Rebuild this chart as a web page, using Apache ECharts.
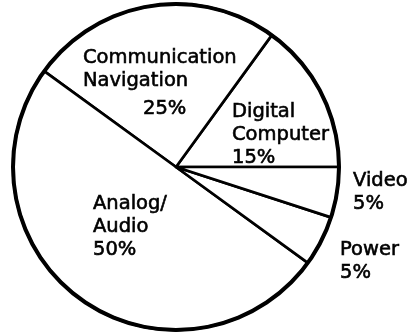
<!DOCTYPE html>
<html>
<head>
<meta charset="utf-8">
<script src="https://cdn.jsdelivr.net/npm/echarts@6/dist/echarts.min.js"></script>
<style>
  html, body { margin: 0; padding: 0; background: #fff; }
  #chart { width: 409px; height: 335px; }
</style>
</head>
<body>
<div id="chart"></div>
<script>
// slices, counter-clockwise from 3 o'clock
var names = ['Digital\nComputer', 'Communication\nNavigation', 'Analog/\nAudio', 'Power', 'Video']
var shares = [15, 25, 50, 5, 5]
// label block top-left and extra left pad of the percent line
var labelPos = [[232, 100, 0], [83, 46, 60], [93, 192, 0], [340, 238, 0], [353, 169, 0]]

var chart = echarts.init(document.getElementById('chart'))

var textStyle = {
  fontFamily: 'DejaVu Sans',
  fontSize: 19.5,
  color: '#000',
  textBorderColor: '#000',
  textBorderWidth: 0.6
}

var option = {
  backgroundColor: '#fff',
  animation: false,
  series: [
    {
      type: 'pie',
      center: [176, 167],
      radius: [0, 163],
      startAngle: 0,
      clockwise: false,
      silent: true,
      itemStyle: {
        color: '#fff',
        borderColor: '#000',
        borderWidth: 2.7
      },
      label: Object.assign({
        show: true,
        position: 'inside',
        align: 'left',
        lineHeight: 23,
        formatter: function (p) {
          return p.name + '\n{pct|' + p.value + '%}'
        },
        rich: {
          pct: Object.assign({ lineHeight: 23 }, textStyle)
        }
      }, textStyle),
      labelLine: { show: false },
      labelLayout: function (params) {
        var p = labelPos[params.dataIndex]
        return { x: p[0], y: p[1], align: 'left', verticalAlign: 'top' }
      },
      data: names.map(function (n, i) {
        var d = { name: n, value: shares[i] }
        if (labelPos[i][2]) {
          d.label = {
            rich: {
              pct: Object.assign({ lineHeight: 34, padding: [0, 0, 0, labelPos[i][2]] }, textStyle)
            }
          }
        }
        return d
      })
    },
    {
      // thicker outer rim
      type: 'pie',
      center: [176, 167],
      radius: [161, 165],
      silent: true,
      label: { show: false },
      labelLine: { show: false },
      itemStyle: { color: '#000', borderWidth: 0 },
      data: [{ name: 'rim', value: 1 }]
    }
  ]
}

chart.setOption(option)
</script>
</body>
</html>
